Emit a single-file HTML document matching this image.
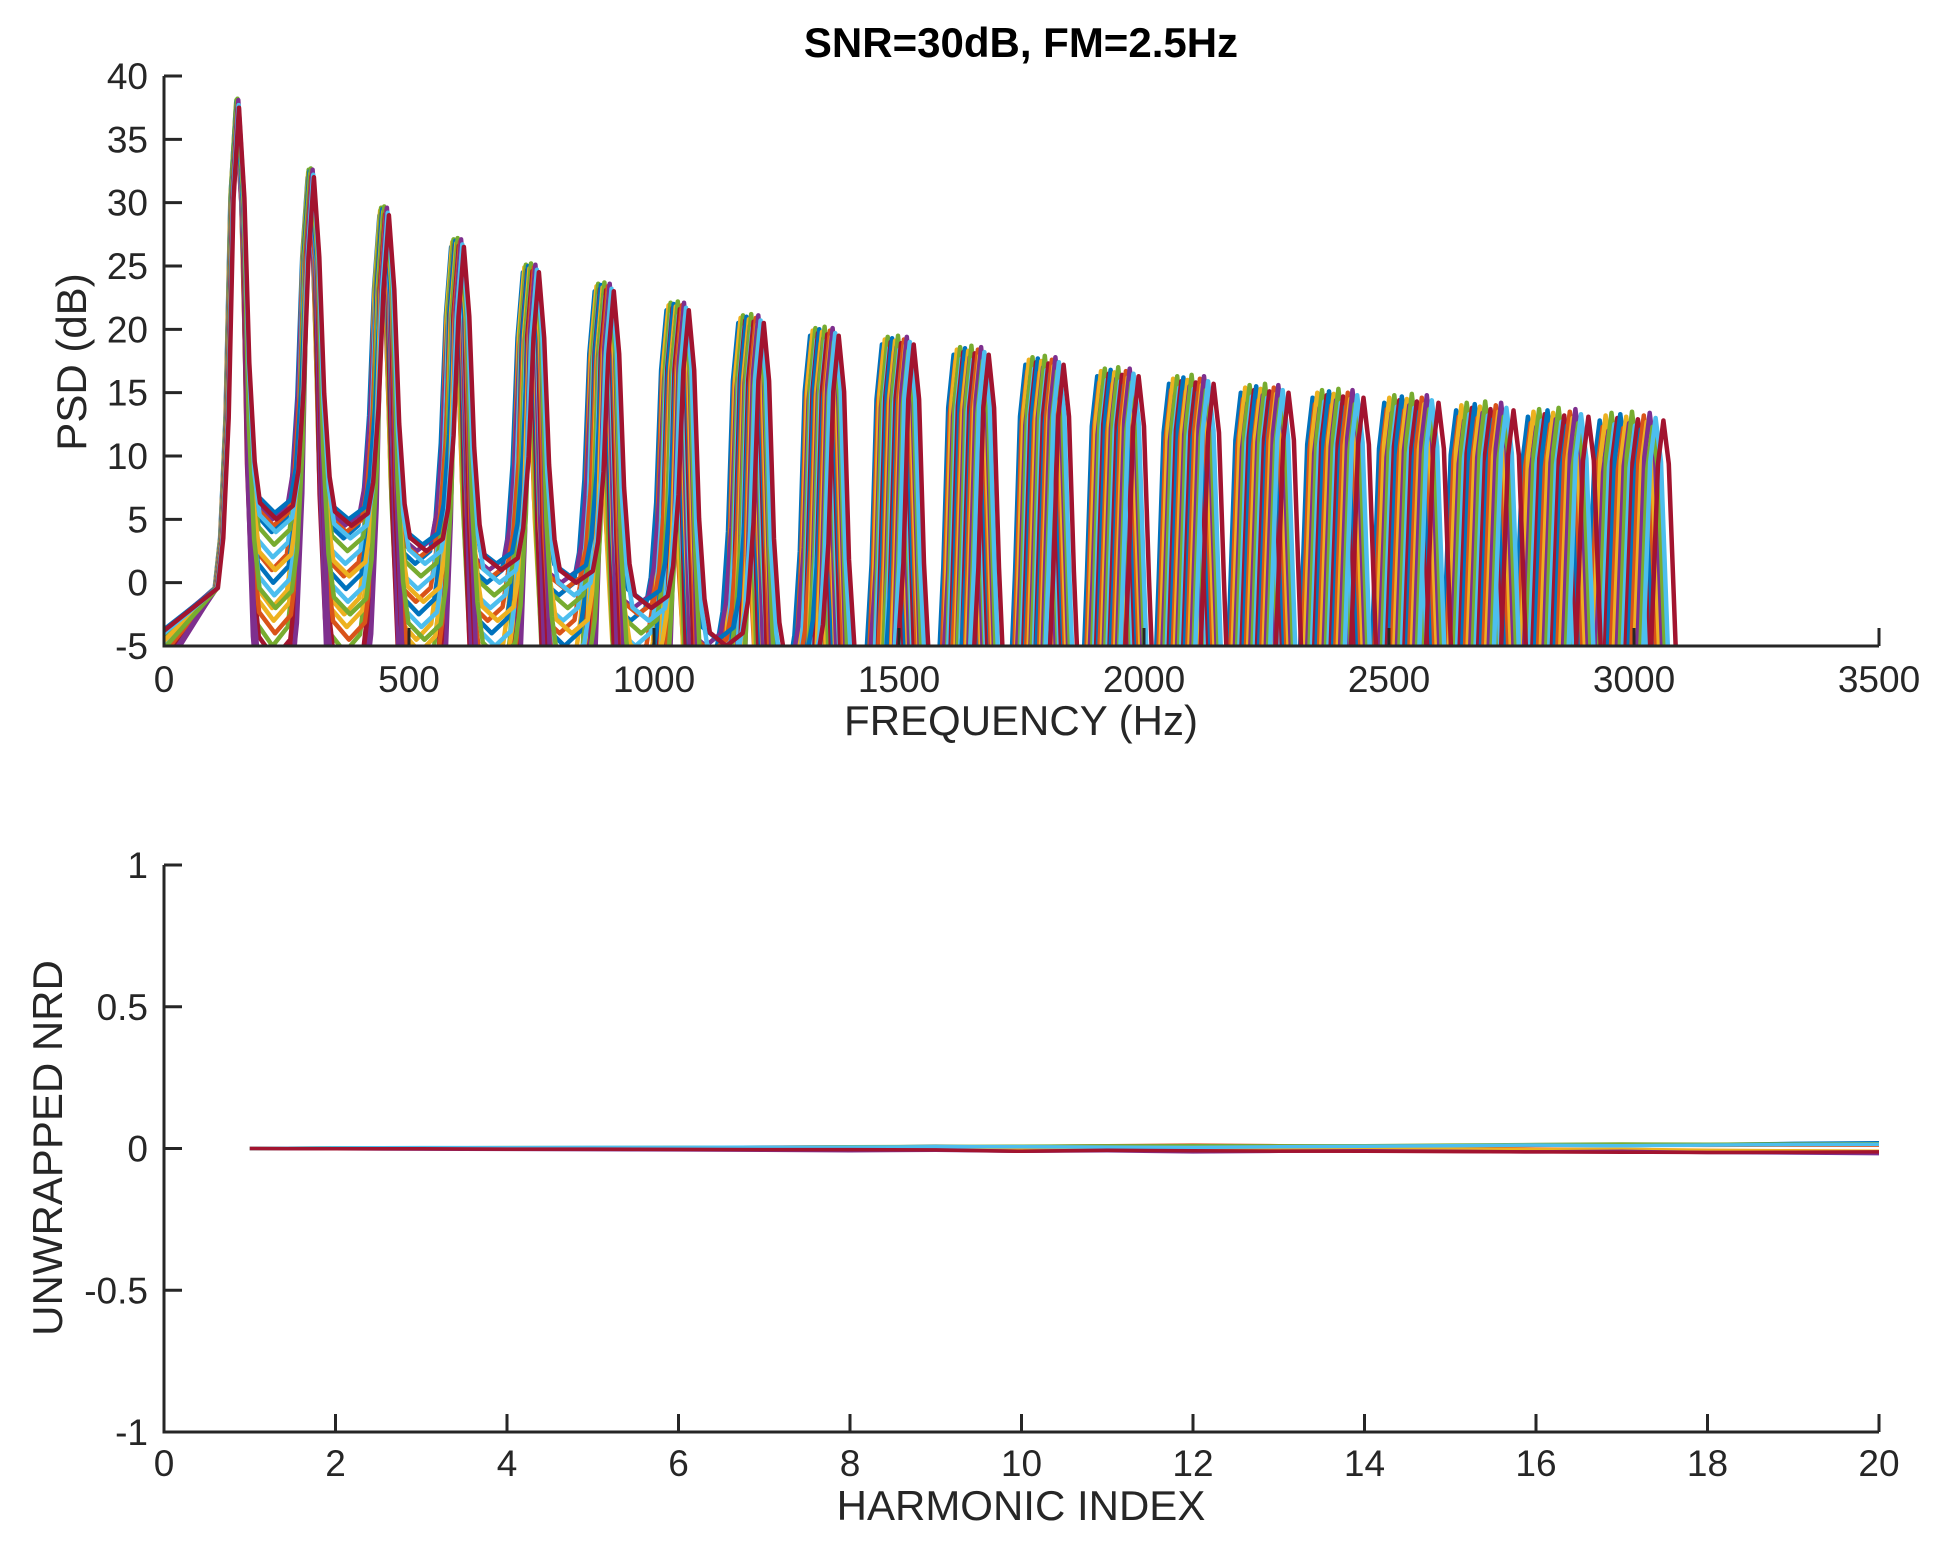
<!DOCTYPE html>
<html><head><meta charset="utf-8"><style>
html,body{margin:0;padding:0;background:#fff;}
svg{display:block;font-family:"Liberation Sans",Arial,sans-serif;}
</style></head>
<body>
<svg id="fig" width="1958" height="1562" viewBox="0 0 1958 1562" xmlns="http://www.w3.org/2000/svg">
<defs>
<clipPath id="clipTop"><rect x="164" y="76" width="1715" height="570"/></clipPath>
<clipPath id="clipBot"><rect x="164" y="865" width="1715" height="567"/></clipPath>
</defs>
<rect width="1958" height="1562" fill="#fff"/>
<text x="1021" y="57" text-anchor="middle" font-size="42" font-weight="bold" fill="#000">SNR=30dB, FM=2.5Hz</text>
<g id="topSeries" clip-path="url(#clipTop)"></g>
<g id="topAxes"></g>
<g id="botSeries" clip-path="url(#clipBot)"></g>
<g id="botAxes"></g>
<text x="1021" y="735" text-anchor="middle" font-size="42" fill="#262626">FREQUENCY (Hz)</text>
<text transform="translate(86,362) rotate(-90)" text-anchor="middle" font-size="42" fill="#262626">PSD (dB)</text>
<text x="1021" y="1520" text-anchor="middle" font-size="42" fill="#262626">HARMONIC INDEX</text>
<text transform="translate(62,1148) rotate(-90)" text-anchor="middle" font-size="42" fill="#262626">UNWRAPPED NRD</text>
</svg>
<script>
// ---- data: top chart ----
const harmonicPeaks = [37.5, 32, 29, 26.5, 24.5, 23, 21.5, 20.5, 19.5, 18.8, 18, 17.2, 16.3, 15.7, 15, 14.6, 14.2, 13.6, 13.1, 12.8];
const valleyLevels = [4, 3.5, 1.5, 0, -1, -3, -6, -8, -10, -12, -14, -15, -16, -17, -18, -18, -19, -19, -20, -20];
const seriesF0 = [146.5, 146.8, 147.1, 147.4, 147.7, 148, 148.3, 148.6, 148.9, 149.2, 149.5, 149.8, 150.1, 150.4, 150.7, 151, 151.3, 151.6, 151.9, 152.2, 153];
const seriesPeakJitter = [0, -0.5, 0.4, -0.8, 0.6, -0.3, 0.2, 0.5, -0.6, 0.3, -0.2, 0.7, -0.4, 0.1, -0.7, 0.4, -0.1, 0.6, -0.5, 0.2, 0];
const seriesValleyOffset = [0, -3, -6, 1, -9, -2, -12, -4, 0.5, -7, -15, -1, -5, -10, 1.5, -8, -3, -13, -6, 0, 1];
const peakShapeOffsets = [0, 11, 21, 32, 43];
const peakShapeFrac = [0, 0.15, 0.6, 1.1, 1.5];
const valleyBlend = [1, 0.7, 0.38, 0.14, 0.04];
const psdXTicks = [0, 500, 1000, 1500, 2000, 2500, 3000, 3500];
const psdYTicks = [-5, 0, 5, 10, 15, 20, 25, 30, 35, 40];
// ---- data: bottom chart ----
const harmonicIndex = [1,2,3,4,5,6,7,8,9,10,11,12,13,14,15,16,17,18,19,20];
const nrdBlue   = [0,0,0,0.001,0.002,0.002,0.003,0.004,0.008,0.004,0.006,0.008,0.006,0.004,0.008,0.012,0.01,0.014,0.018,0.02];
const nrdOrange = [0,0,0.001,0.002,0.001,0.003,0.005,0.006,0.004,0.007,0.01,0.012,0.01,0.008,0.006,0.01,0.012,0.011,0.012,0.012];
const nrdYellow = [0,0.001,0.001,0,-0.001,0,0.002,0.001,0,-0.002,0,0.003,0.002,0,-0.002,-0.004,-0.003,-0.006,-0.008,-0.01];
const nrdPurple = [0,-0.001,-0.002,-0.003,-0.004,-0.005,-0.006,-0.008,-0.006,-0.01,-0.008,-0.012,-0.01,-0.008,-0.01,-0.012,-0.01,-0.014,-0.016,-0.018];
const nrdGreen  = [0,0.002,0.002,0.003,0.003,0.004,0.004,0.006,0.007,0.008,0.009,0.01,0.009,0.01,0.012,0.014,0.016,0.015,0.016,0.017];
const nrdCyan   = [0,0.002,0.003,0.003,0.004,0.004,0.005,0.005,0.006,0.006,0.005,0.004,0.006,0.008,0.01,0.012,0.01,0.012,0.014,0.015];
const nrdRed    = [0,-0.001,-0.001,-0.002,-0.002,-0.003,-0.004,-0.004,-0.005,-0.01,-0.006,-0.008,-0.009,-0.01,-0.011,-0.012,-0.013,-0.014,-0.013,-0.012];
const nrdXTicks = [0,2,4,6,8,10,12,14,16,18,20];
const nrdYTicks = [-1,-0.5,0,0.5,1];
const nrdYLabels = ["-1","-0.5","0","0.5","1"];

const COLORS = ["#0072BD","#D95319","#EDB120","#7E2F8E","#77AC30","#4DBEEE","#A2142F"];
const NS = "http://www.w3.org/2000/svg";
const AX = "#262626";

const tx = v => 164 + (v/3500)*1715;
const ty = v => 646 - ((v+5)/45)*570;
const bx = v => 164 + (v/20)*1715;
const by = v => 1148.5 - v*283.5;

function mk(tag, attrs, parent){ const e=document.createElementNS(NS,tag); for(const k in attrs) e.setAttribute(k,attrs[k]); parent.appendChild(e); return e; }

// top series
const topG = document.getElementById('topSeries');
seriesF0.forEach((f0, s) => {
  const pts = [[0, -4 + seriesValleyOffset[s]*0.2]];
  for (let k = 0; k < harmonicPeaks.length; k++) {
    const c = (k+1)*f0, pk = harmonicPeaks[k] + seriesPeakJitter[s];
    const vPrev = k===0 ? -2 : valleyLevels[k-1] + seriesValleyOffset[s];
    const vNext = valleyLevels[k] + seriesValleyOffset[s];
    const val = (i, v) => Math.max(pk - (pk+10)*peakShapeFrac[i], v + (pk - v)*valleyBlend[i]);
    for (let i = peakShapeOffsets.length-1; i >= 1; i--) pts.push([c - peakShapeOffsets[i], val(i, vPrev)]);
    pts.push([c, pk]);
    for (let i = 1; i < peakShapeOffsets.length; i++) pts.push([c + peakShapeOffsets[i], val(i, vNext)]);
    if (k < harmonicPeaks.length-1) pts.push([(k+1.5)*f0, vNext]);
  }
  const d = pts.map((p,i)=>(i?'L':'M')+tx(p[0]).toFixed(1)+' '+ty(p[1]).toFixed(1)).join('');
  const p = mk('path', {d:d, fill:'none', stroke:COLORS[s%7], 'stroke-width':4.5, 'stroke-linejoin':'round'}, topG);
  
  
});

// top axes
const ta = document.getElementById('topAxes');
mk('path', {d:`M164 76V646H1879`, fill:'none', stroke:AX, 'stroke-width':3}, ta);
psdXTicks.forEach(v => {
  mk('line', {x1:tx(v), x2:tx(v), y1:646, y2:628, stroke:AX, 'stroke-width':3}, ta);
  const t = mk('text', {x:tx(v), y:692, 'text-anchor':'middle', 'font-size':37, fill:AX}, ta);
  t.textContent = v;
  
  
});
psdYTicks.forEach(v => {
  mk('line', {x1:164, x2:182, y1:ty(v), y2:ty(v), stroke:AX, 'stroke-width':3}, ta);
  const t = mk('text', {x:148, y:ty(v)+13, 'text-anchor':'end', 'font-size':37, fill:AX}, ta);
  t.textContent = v;
  
  
});

// bottom series
const botG = document.getElementById('botSeries');
const nrdSeries = [nrdBlue, nrdOrange, nrdYellow, nrdPurple, nrdGreen, nrdCyan, nrdRed];
nrdSeries.forEach((vals, s) => {
  const d = vals.map((v,i)=>(i?'L':'M')+bx(harmonicIndex[i]).toFixed(1)+' '+by(v).toFixed(1)).join('');
  const p = mk('path', {d:d, fill:'none', stroke:COLORS[s], 'stroke-width':3.5}, botG);
  
  
});

// bottom axes
const ba = document.getElementById('botAxes');
mk('path', {d:`M164 865V1432H1879`, fill:'none', stroke:AX, 'stroke-width':3}, ba);
nrdXTicks.forEach(v => {
  mk('line', {x1:bx(v), x2:bx(v), y1:1432, y2:1414, stroke:AX, 'stroke-width':3}, ba);
  const t = mk('text', {x:bx(v), y:1476, 'text-anchor':'middle', 'font-size':37, fill:AX}, ba);
  t.textContent = v;
  
  
});
nrdYTicks.forEach((v,i) => {
  mk('line', {x1:164, x2:182, y1:by(v), y2:by(v), stroke:AX, 'stroke-width':3}, ba);
  const t = mk('text', {x:148, y:by(v)+13, 'text-anchor':'end', 'font-size':37, fill:AX}, ba);
  t.textContent = nrdYLabels[i];
  
  
});
</script>
</body></html>
